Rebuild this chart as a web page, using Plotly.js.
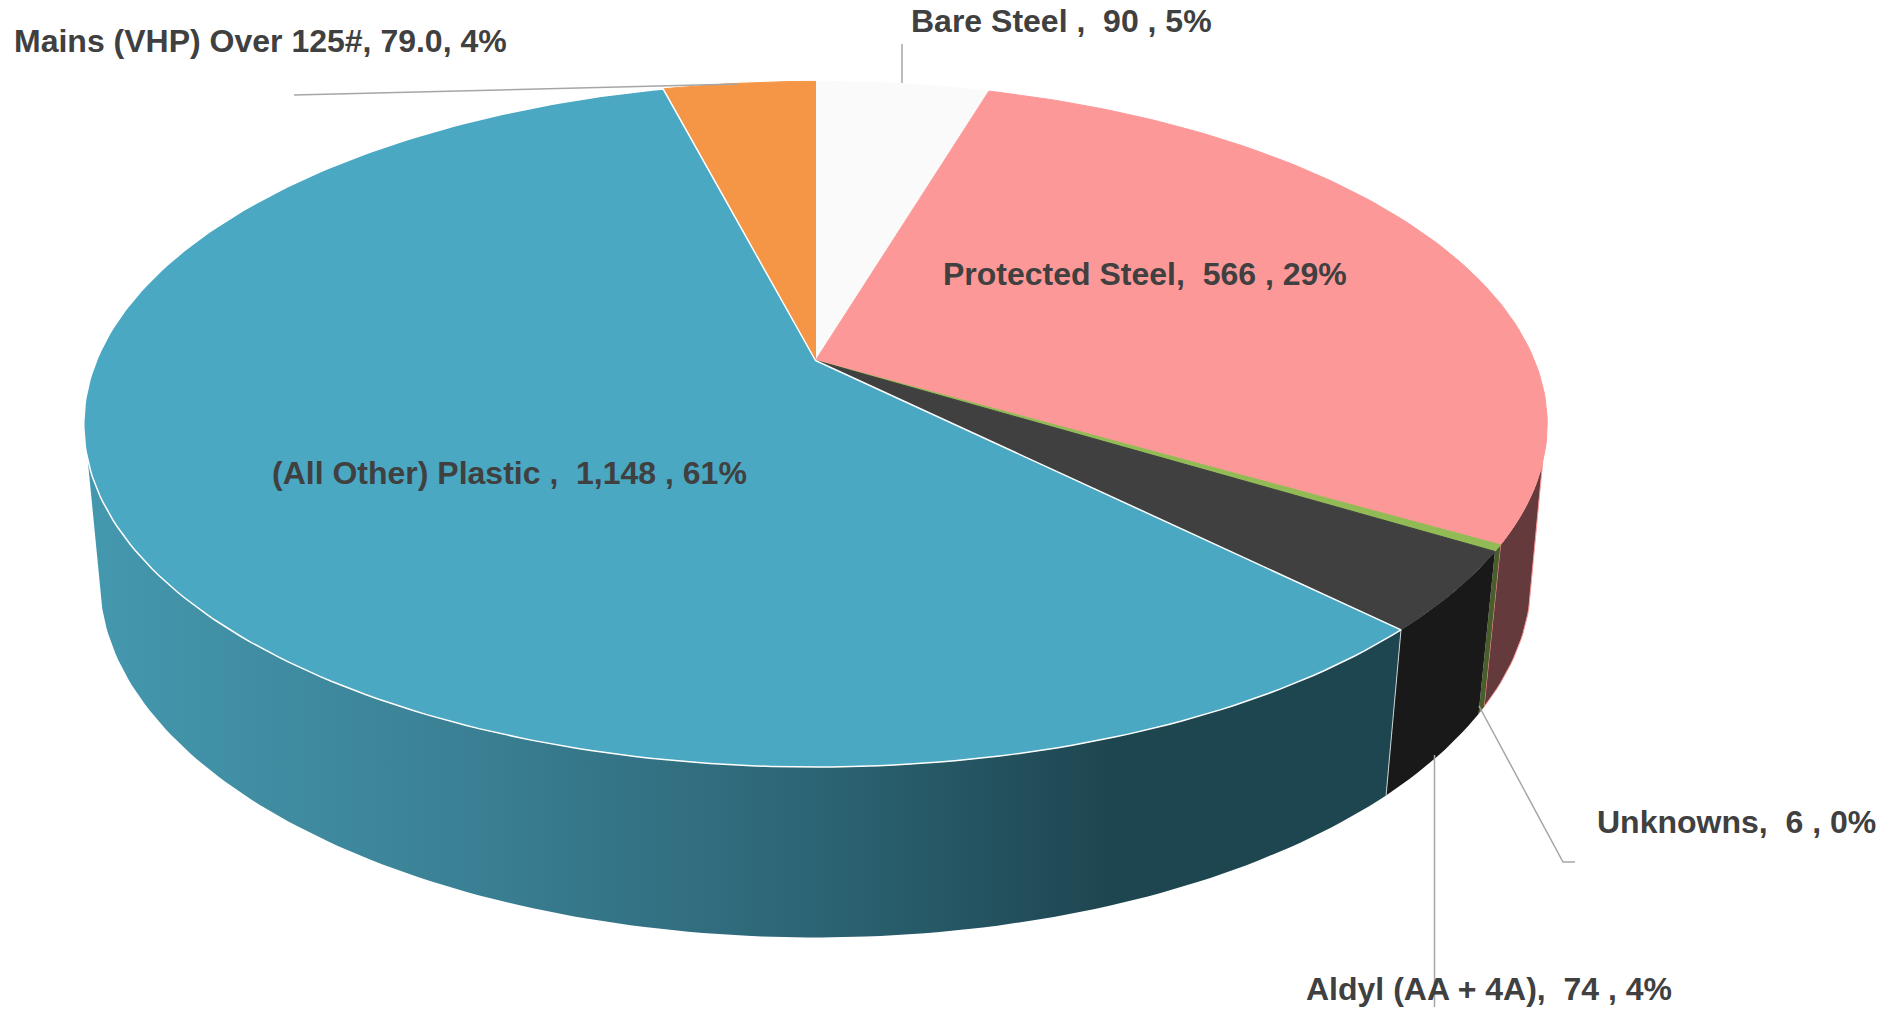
<!DOCTYPE html>
<html>
<head>
<meta charset="utf-8">
<script src="https://cdn.plot.ly/plotly-3.0.1.min.js"></script>
<style>html,body{margin:0;padding:0;background:#fff;overflow:hidden}#chart{width:1903px;height:1010px}</style>
</head>
<body>
<div id="chart"></div>
<script>
// ---- data ----
var categories = ["Bare Steel", "Protected Steel", "Unknowns", "Aldyl (AA + 4A)", "(All Other) Plastic", "Mains (VHP) Over 125#"];
var values = [90, 566, 6, 74, 1148, 79];
var percentLabels = ["5%", "29%", "0%", "4%", "61%", "4%"];
var valueLabels = [",\u00A0\u00A090 ,", ",\u00A0\u00A0566 ,", ",\u00A0\u00A06 ,", ",\u00A0\u00A074 ,", ",\u00A0\u00A01,148 ,", ", 79.0,"];
var nameSuffix = [" ", "", "", "", " ", ""];

// ---- styles ----
var topColors = ["#fafafa", "#fd9898", "#92bb55", "#404040", "#4aa8c3", "#f59646"];
var topLines = ["#fafafa", "#fd9898", "#92bb55", "#404040", "#ffffff", "#f59646"];
var wallColors = ["#fafafa", "#653a3c", "#4a5e2b", "#191919", "#1e4650", "#f59646"];
var wallLines = [null, "#fd9898", null, null, null, null];
var plasticGradient = [[0, "#4498ae"], [0.3, "#3a7f93"], [0.55, "#2c6575"], [0.78, "#1e4650"], [1, "#1e4650"]];
var labelPos = [[909, 21], [941, 274], [1595, 822], [1304, 989], [270, 473], [12, 41]];
var drawOrder = [0, 1, 2, 3, 5, 4];
var leaders = [
  [[902, 44], [902, 83]],
  [[294, 95], [738, 84]],
  [[1479, 706], [1563, 862], [1575, 862]],
  [[1434.5, 755], [1434.5, 1007]]
];

// ---- perspective of the two disc planes (top face, bottom edge) ----
var topPlane = {cx: 815.5, cy: 360.5, A: 719, B: 331, k: 0.1858};
var bottomPlane = {cx: 815.5, cy: 514.6, A: 704, B: 346.7, k: 0.18};
var WALL_TOP = [107, 253.5], WALL_BOTTOM = [105, 255];

function project(p, deg) {
  var r = deg * Math.PI / 180, u = Math.sin(r), v = Math.cos(r), d = 1 + p.k * v;
  return [p.cx + p.A * u / d, p.cy - p.B * v / d];
}
function arc(p, a, b) {
  var pts = [], n = Math.max(2, Math.ceil(Math.abs(b - a)));
  for (var i = 0; i <= n; i++) pts.push(project(p, a + (b - a) * i / n));
  return pts;
}

var total = values.reduce(function (s, v) { return s + v; }, 0);
var run = 0;
var spans = values.map(function (v) {
  var a = run / total * 360; run += v;
  return [a, run / total * 360];
});

var walls = [], tops = [], edges = [];
spans.forEach(function (s, i) {
  var a = Math.max(s[0], WALL_TOP[0]), b = Math.min(s[1], WALL_TOP[1]);
  if (b > a) {
    var a2 = s[0] < WALL_TOP[0] ? WALL_BOTTOM[0] : a;
    var b2 = s[1] > WALL_TOP[1] ? WALL_BOTTOM[1] : b;
    var pts = arc(topPlane, a, b).concat(arc(bottomPlane, b2, a2));
    pts.push(pts[0]);
    var w = {
      type: "scatter", mode: "lines", fill: "toself", name: categories[i], showlegend: false,
      x: pts.map(function (q) { return q[0]; }), y: pts.map(function (q) { return q[1]; }),
      line: wallLines[i] ? {color: wallLines[i], width: 1} : {width: 0},
      fillcolor: wallColors[i], hoverinfo: "name"
    };
    if (i === 4) w.fillgradient = {type: "horizontal", colorscale: plasticGradient, start: 90, stop: 1400};
    walls.push(w);
    if (i === 3) {
      var t = project(topPlane, b), m = project(bottomPlane, b);
      edges.push({type: "scatter", mode: "lines", showlegend: false, hoverinfo: "skip",
        x: [t[0], m[0]], y: [t[1], m[1]], line: {color: "#c8d0d2", width: 1}});
    }
  }
});
drawOrder.forEach(function (i) {
  var s = spans[i];
  var face = [[topPlane.cx, topPlane.cy]].concat(arc(topPlane, s[0], s[1]));
  face.push([topPlane.cx, topPlane.cy]);
  tops.push({
    type: "scatter", mode: "lines", fill: "toself", name: categories[i], showlegend: false,
    x: face.map(function (q) { return q[0]; }), y: face.map(function (q) { return q[1]; }),
    line: {color: topLines[i], width: i === 4 ? 1.5 : 1}, fillcolor: topColors[i], hoverinfo: "name"
  });
});

var annotations = categories.map(function (c, i) {
  return {
    x: labelPos[i][0], y: labelPos[i][1], xref: "x", yref: "y",
    xanchor: "left", yanchor: "middle", showarrow: false, align: "left",
    text: "<b>" + c + nameSuffix[i] + valueLabels[i] + " " + percentLabels[i] + "</b>",
    font: {family: "Liberation Sans, Arial, sans-serif", size: 32, color: "#404040"}
  };
});

var shapes = leaders.map(function (l) {
  return {
    type: "path", xref: "x", yref: "y",
    path: l.map(function (q, i) { return (i ? "L" : "M") + q[0] + "," + q[1]; }).join(" "),
    line: {color: "#a6a6a6", width: 1.5}
  };
});

Plotly.newPlot("chart", walls.concat(edges, tops), {
  width: 1903, height: 1010,
  margin: {l: 0, r: 0, t: 0, b: 0},
  paper_bgcolor: "#ffffff", plot_bgcolor: "#ffffff",
  xaxis: {range: [0, 1903], visible: false, fixedrange: true},
  yaxis: {range: [1010, 0], visible: false, fixedrange: true},
  annotations: annotations, shapes: shapes, showlegend: false
}, {displayModeBar: false, responsive: false});
</script>
</body>
</html>
